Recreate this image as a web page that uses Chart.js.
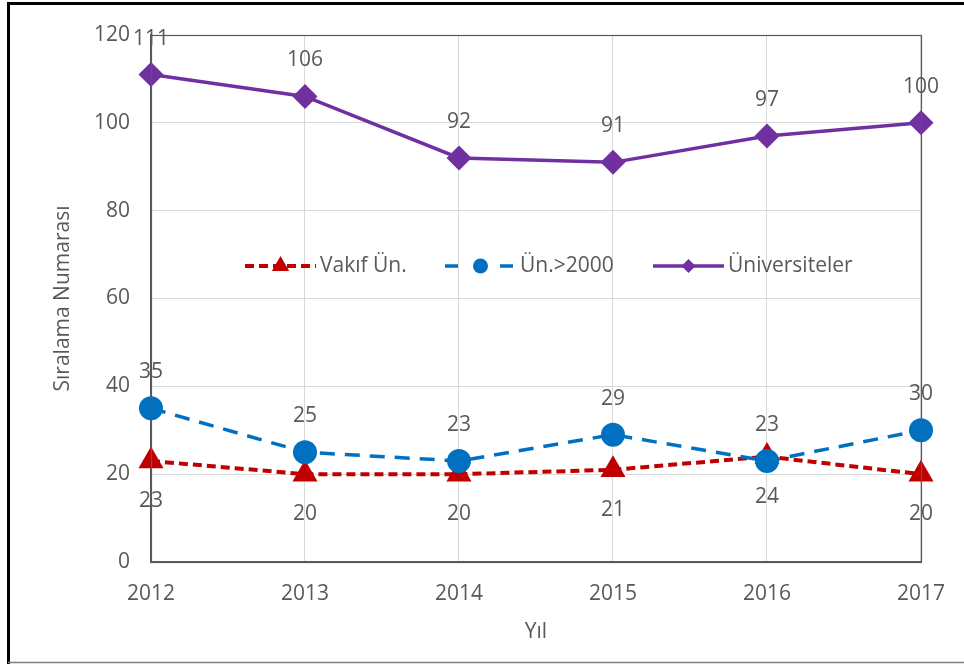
<!DOCTYPE html>
<html>
<head>
<meta charset="utf-8">
<script src="https://cdn.jsdelivr.net/npm/chart.js@4/dist/chart.umd.min.js"></script>
<style>
html,body{margin:0;padding:0;background:#fff;}
#wrap{width:964px;height:664px;position:relative;}
canvas{display:block;}
</style>
</head>
<body>
<div id="wrap"><canvas id="c" width="964" height="664"></canvas></div>
<script>
// ---- data ----
const years = ['2012', '2013', '2014', '2015', '2016', '2017'];
const vakifUn = [23, 20, 20, 21, 24, 20];
const un2000 = [35, 25, 23, 29, 23, 30];
const universiteler = [111, 106, 92, 91, 97, 100];
const seriesNames = ['Vakıf Ün.', 'Ün.>2000', 'Üniversiteler'];
const yMin = 0, yMax = 120, yStep = 20;
const xTitle = 'Yıl';
const yTitle = 'Sıralama Numarası';

const FONT = "'Open Sans', 'DejaVu Sans', sans-serif";
const FS = 21;
const TEXT = '#595959';

// value labels
const valueLabels = {
  id: 'valueLabels',
  afterDatasetsDraw(chart) {
    const ctx = chart.ctx;
    ctx.save();
    ctx.font = FS + 'px ' + FONT;
    ctx.fillStyle = TEXT;
    ctx.textAlign = 'center';
    ctx.textBaseline = 'middle';
    chart.data.datasets.forEach((ds, di) => {
      const meta = chart.getDatasetMeta(di);
      meta.data.forEach((pt, i) => {
        const off = ds.labelSide === 'below' ? 40 : -36;
        ctx.fillText(String(ds.data[i]), pt.x, pt.y + off);
      });
    });
    ctx.restore();
  }
};

function drawMarker(ctx, style, r, x, y, color) {
  ctx.save();
  ctx.fillStyle = color;
  ctx.beginPath();
  if (style === 'triangle') {
    ctx.moveTo(x, y - r);
    ctx.lineTo(x + r * 0.866, y + r * 0.5);
    ctx.lineTo(x - r * 0.866, y + r * 0.5);
  } else if (style === 'rectRot') {
    ctx.moveTo(x - r, y); ctx.lineTo(x, y - r); ctx.lineTo(x + r, y); ctx.lineTo(x, y + r);
  } else {
    ctx.arc(x, y, r, 0, Math.PI * 2);
  }
  ctx.closePath();
  ctx.fill();
  ctx.restore();
}

// in-plot legend
const innerLegend = {
  id: 'innerLegend',
  afterDatasetsDraw(chart, args, opts) {
    const ctx = chart.ctx;
    ctx.save();
    ctx.font = FS + 'px ' + FONT;
    ctx.textBaseline = 'middle';
    ctx.textAlign = 'left';
    const y = opts.y;
    chart.data.datasets.forEach((ds, i) => {
      const x = opts.starts[i];
      const len = opts.sampleLength;
      ctx.save();
      ctx.strokeStyle = ds.borderColor;
      ctx.lineWidth = ds.borderWidth;
      ctx.setLineDash(ds.legendDash || []);
      ctx.beginPath();
      ctx.moveTo(x, y);
      ctx.lineTo(x + len, y);
      ctx.stroke();
      ctx.restore();
      drawMarker(ctx, ds.pointStyle, ds.legendRadius, x + len / 2, y, ds.pointBackgroundColor);
      ctx.fillStyle = TEXT;
      ctx.fillText(ds.label, x + len + 4, y);
    });
    ctx.restore();
  }
};

// plot border + outer frame
const frames = {
  id: 'frames',
  afterDraw(chart) {
    const ctx = chart.ctx;
    const a = chart.chartArea;
    ctx.save();
    ctx.strokeStyle = '#595959';
    ctx.lineWidth = 1.2;
    ctx.strokeRect(Math.round(a.left) + 0.5, Math.round(a.top) + 0.5, Math.round(a.right - a.left), Math.round(a.bottom - a.top));
    ctx.strokeStyle = '#000';
    ctx.lineWidth = 3;
    ctx.beginPath();
    ctx.moveTo(8.5, 664); ctx.lineTo(8.5, 3.5); ctx.lineTo(964, 3.5);
    ctx.stroke();
    ctx.strokeStyle = '#7f7f7f';
    ctx.lineWidth = 1.5;
    ctx.beginPath();
    ctx.moveTo(8, 662.5); ctx.lineTo(964, 662.5);
    ctx.stroke();
    ctx.restore();
  }
};

new Chart(document.getElementById('c'), {
  type: 'line',
  data: {
    labels: years,
    datasets: [
      {
        label: seriesNames[0], data: vakifUn, labelSide: 'below',
        borderColor: '#C00000', backgroundColor: '#C00000',
        pointBackgroundColor: '#C00000', pointBorderColor: '#C00000',
        borderWidth: 4, borderDash: [9, 5], legendDash: [9, 5],
        pointStyle: 'triangle', pointRadius: 14.5, pointBorderWidth: 0, legendRadius: 10,
        tension: 0, clip: false, order: 2
      },
      {
        label: seriesNames[1], data: un2000, labelSide: 'above',
        borderColor: '#0070C0', backgroundColor: '#0070C0',
        pointBackgroundColor: '#0070C0', pointBorderColor: '#0070C0',
        borderWidth: 3.5, borderDash: [15, 10], legendDash: [13, 42],
        pointStyle: 'circle', pointRadius: 12, pointBorderWidth: 0, legendRadius: 7.5,
        tension: 0, clip: false, order: 1
      },
      {
        label: seriesNames[2], data: universiteler, labelSide: 'above',
        borderColor: '#7030A0', backgroundColor: '#7030A0',
        pointBackgroundColor: '#7030A0', pointBorderColor: '#7030A0',
        borderWidth: 3.5, borderDash: [], legendDash: [],
        pointStyle: 'rectRot', pointRadius: 12.5, pointBorderWidth: 0, legendRadius: 7,
        tension: 0, clip: false, order: 0
      }
    ]
  },
  options: {
    responsive: false,
    animation: false,
    devicePixelRatio: 1,
    layout: { padding: { left: 50, top: 35, right: 41, bottom: 19 } },
    plugins: {
      legend: { display: false },
      tooltip: { enabled: false },
      innerLegend: { starts: [245, 445, 653], sampleLength: 71, y: 266 }
    },
    scales: {
      x: {
        type: 'category',
        offset: false,
        grid: { color: '#d9d9d9', lineWidth: 1, drawTicks: false },
        border: { display: true, color: '#595959', width: 1.2 },
        ticks: { color: TEXT, font: { family: FONT, size: FS }, padding: 19, maxRotation: 0 },
        title: { display: true, text: xTitle, color: TEXT, font: { family: FONT, size: FS }, padding: 0 },
        afterFit(s) { s.height = 83; }
      },
      y: {
        min: yMin, max: yMax,
        grid: { color: '#d9d9d9', lineWidth: 1, drawTicks: false },
        border: { display: true, color: '#595959', width: 1.2 },
        ticks: { stepSize: yStep, color: TEXT, font: { family: FONT, size: FS }, padding: 21 },
        title: { display: true, text: yTitle, color: TEXT, font: { family: FONT, size: FS }, padding: 0 },
        afterFit(s) { s.width = 101; }
      }
    }
  },
  plugins: [valueLabels, innerLegend, frames]
});
</script>
</body>
</html>
